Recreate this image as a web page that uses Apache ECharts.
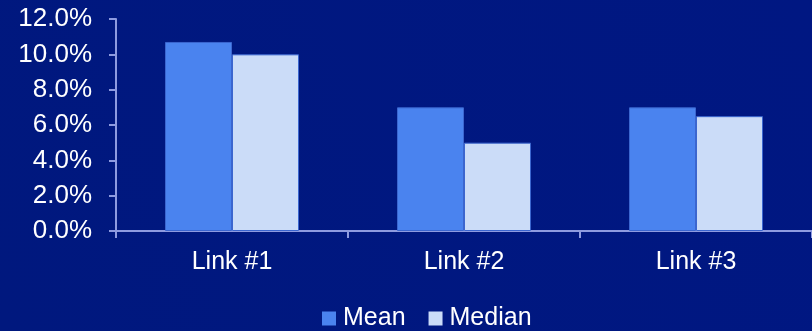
<!DOCTYPE html>
<html><head><meta charset="utf-8">
<script src="https://cdn.jsdelivr.net/npm/echarts@6/dist/echarts.min.js"></script>
<style>html,body{margin:0;padding:0;background:#00187f;}#c{width:812px;height:331px;}</style>
</head><body><div id="c"></div>
<script>
const categories = ['Link #1', 'Link #2', 'Link #3'];
const meanValues = [10.7, 7.0, 7.0];
const medianValues = [10.0, 5.0, 6.5];
const yTicks = [0, 2, 4, 6, 8, 10, 12];

const chart = echarts.init(document.getElementById('c'));
const font = '"Liberation Sans", Arial, sans-serif';
chart.setOption({
  backgroundColor: {
    type: 'linear', x: 0, y: 1, x2: 1, y2: 0,
    colorStops: [{offset: 0, color: '#00187e'}, {offset: 1, color: '#001782'}]
  },
  animation: false,
  grid: {left: 116, top: 19, width: 702, height: 212},
  legend: {
    data: ['Mean', 'Median'], left: 322, top: 306, padding: 0,
    itemWidth: 14, itemHeight: 14, itemGap: 23,
    icon: 'rect',
    itemStyle: {borderWidth: 0},
    textStyle: {color: '#ffffff', fontSize: 25, fontFamily: font, padding: [0, 0, 0, 2]}
  },
  xAxis: {
    type: 'category', data: categories,
    axisLine: {lineStyle: {color: '#8e9be0', width: 2}},
    axisTick: {show: true, length: 7, lineStyle: {color: '#8e9be0', width: 2}},
    axisLabel: {color: '#ffffff', fontSize: 25, fontFamily: font, margin: 19}
  },
  yAxis: {
    type: 'value', min: yTicks[0], max: yTicks[yTicks.length - 1], interval: 2,
    splitLine: {show: false},
    axisLine: {show: true, lineStyle: {color: '#8e9be0', width: 2}},
    axisTick: {show: true, length: 7, lineStyle: {color: '#8e9be0', width: 2}},
    axisLabel: {color: '#ffffff', fontSize: 26, fontFamily: font, margin: 24,
      formatter: v => v.toFixed(1) + '%'}
  },
  series: [
    {name: 'Mean', type: 'bar', data: meanValues, barWidth: 67, barGap: '0%',
     itemStyle: {color: '#4a83ef', borderColor: '#3b66cf', borderWidth: 1}},
    {name: 'Median', type: 'bar', data: medianValues, barWidth: 67,
     itemStyle: {color: '#cbdcf8', borderColor: '#3b66cf', borderWidth: 1}}
  ]
});
</script></body></html>
